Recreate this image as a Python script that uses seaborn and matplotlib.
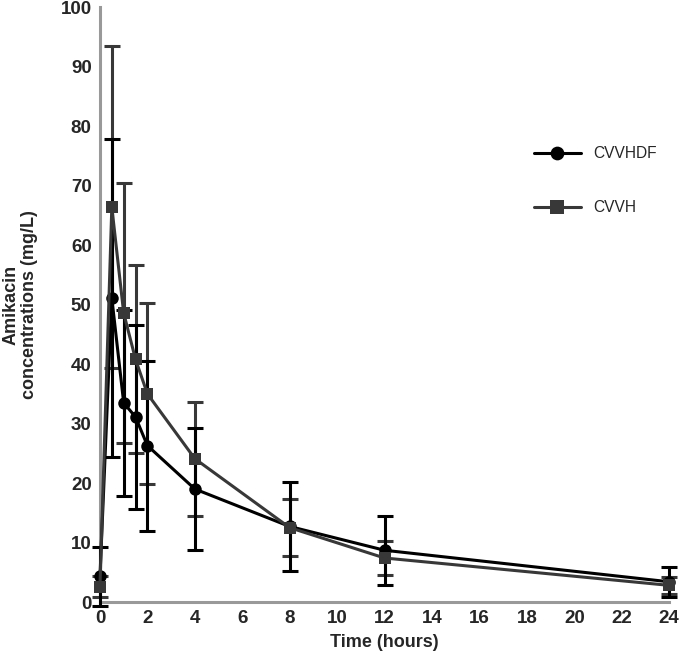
import numpy as np
import pandas as pd
import seaborn as sns
import matplotlib.pyplot as plt

time_h = [0, 0.5, 1, 1.5, 2, 4, 8, 12, 24]
cvvhdf_mean = [4.3, 51.1, 33.5, 31.1, 26.3, 19.0, 12.7, 8.7, 3.4]
cvvhdf_sd = [5.0, 26.8, 15.6, 15.5, 14.3, 10.2, 7.5, 5.8, 2.5]
cvvh_mean = [2.6, 66.4, 48.6, 40.8, 35.0, 24.1, 12.5, 7.4, 2.8]
cvvh_sd = [1.7, 27.1, 21.9, 15.8, 15.2, 9.6, 4.8, 2.9, 1.4]

x_ticks = list(range(0, 25, 2))
y_ticks = list(range(0, 101, 10))

df = pd.concat([
    pd.DataFrame({'time': time_h, 'conc': cvvh_mean, 'sd': cvvh_sd, 'mode': 'CVVH'}),
    pd.DataFrame({'time': time_h, 'conc': cvvhdf_mean, 'sd': cvvhdf_sd, 'mode': 'CVVHDF'}),
])

sns.set_style('white')
plt.rcParams['font.family'] = ['Liberation Sans', 'DejaVu Sans']

fig = plt.figure(figsize=(6.8, 6.63), dpi=100)
ax = fig.add_axes([0.147, 0.092, 0.837, 0.897])

colors = {'CVVHDF': 'black', 'CVVH': '#383838'}
markers = {'CVVHDF': 'o', 'CVVH': 's'}

# error bars first so the markers sit on top
for mode in ['CVVH', 'CVVHDF']:
    d = df[df['mode'] == mode]
    ax.errorbar(d['time'], d['conc'], yerr=d['sd'], fmt='none',
                ecolor=colors[mode], elinewidth=2.2, capsize=6, capthick=2.2,
                zorder=2 if mode == 'CVVH' else 4)

sns.lineplot(data=df, x='time', y='conc', hue='mode', style='mode',
             hue_order=['CVVHDF', 'CVVH'], style_order=['CVVHDF', 'CVVH'],
             palette=colors, markers=markers, dashes=False,
             linewidth=2.2, markersize=9, markeredgewidth=0,
             ax=ax, zorder=5)

ax.set_xlim(0, 24)
ax.set_ylim(0, 100)
ax.set_xticks(x_ticks)
ax.set_yticks(y_ticks)
for ln in ax.get_lines():
    ln.set_clip_on(False)
for coll in ax.collections:
    coll.set_clip_on(False)

for side in ['top', 'right']:
    ax.spines[side].set_visible(False)
for side in ['left', 'bottom']:
    ax.spines[side].set_color('#999999')
    ax.spines[side].set_linewidth(2.2)

ax.tick_params(axis='both', direction='out', length=5, width=2.2, color='#999999',
               labelsize=13.5, pad=1)
for lab in ax.get_xticklabels() + ax.get_yticklabels():
    lab.set_fontweight('bold')

ax.set_xlabel('Time (hours)', fontsize=13, fontweight='bold', labelpad=5)
ax.set_ylabel('Amikacin\nconcentrations (mg/L)', fontsize=13, fontweight='bold',
              labelpad=16, linespacing=1.15)

ax.legend(loc='upper left', bbox_to_anchor=(0.738, 0.79), frameon=False,
          fontsize=11.2, labelspacing=2.5, handlelength=3.0, handletextpad=0.8,
          markerscale=1.1)

fig.savefig('out.png', dpi=100)
